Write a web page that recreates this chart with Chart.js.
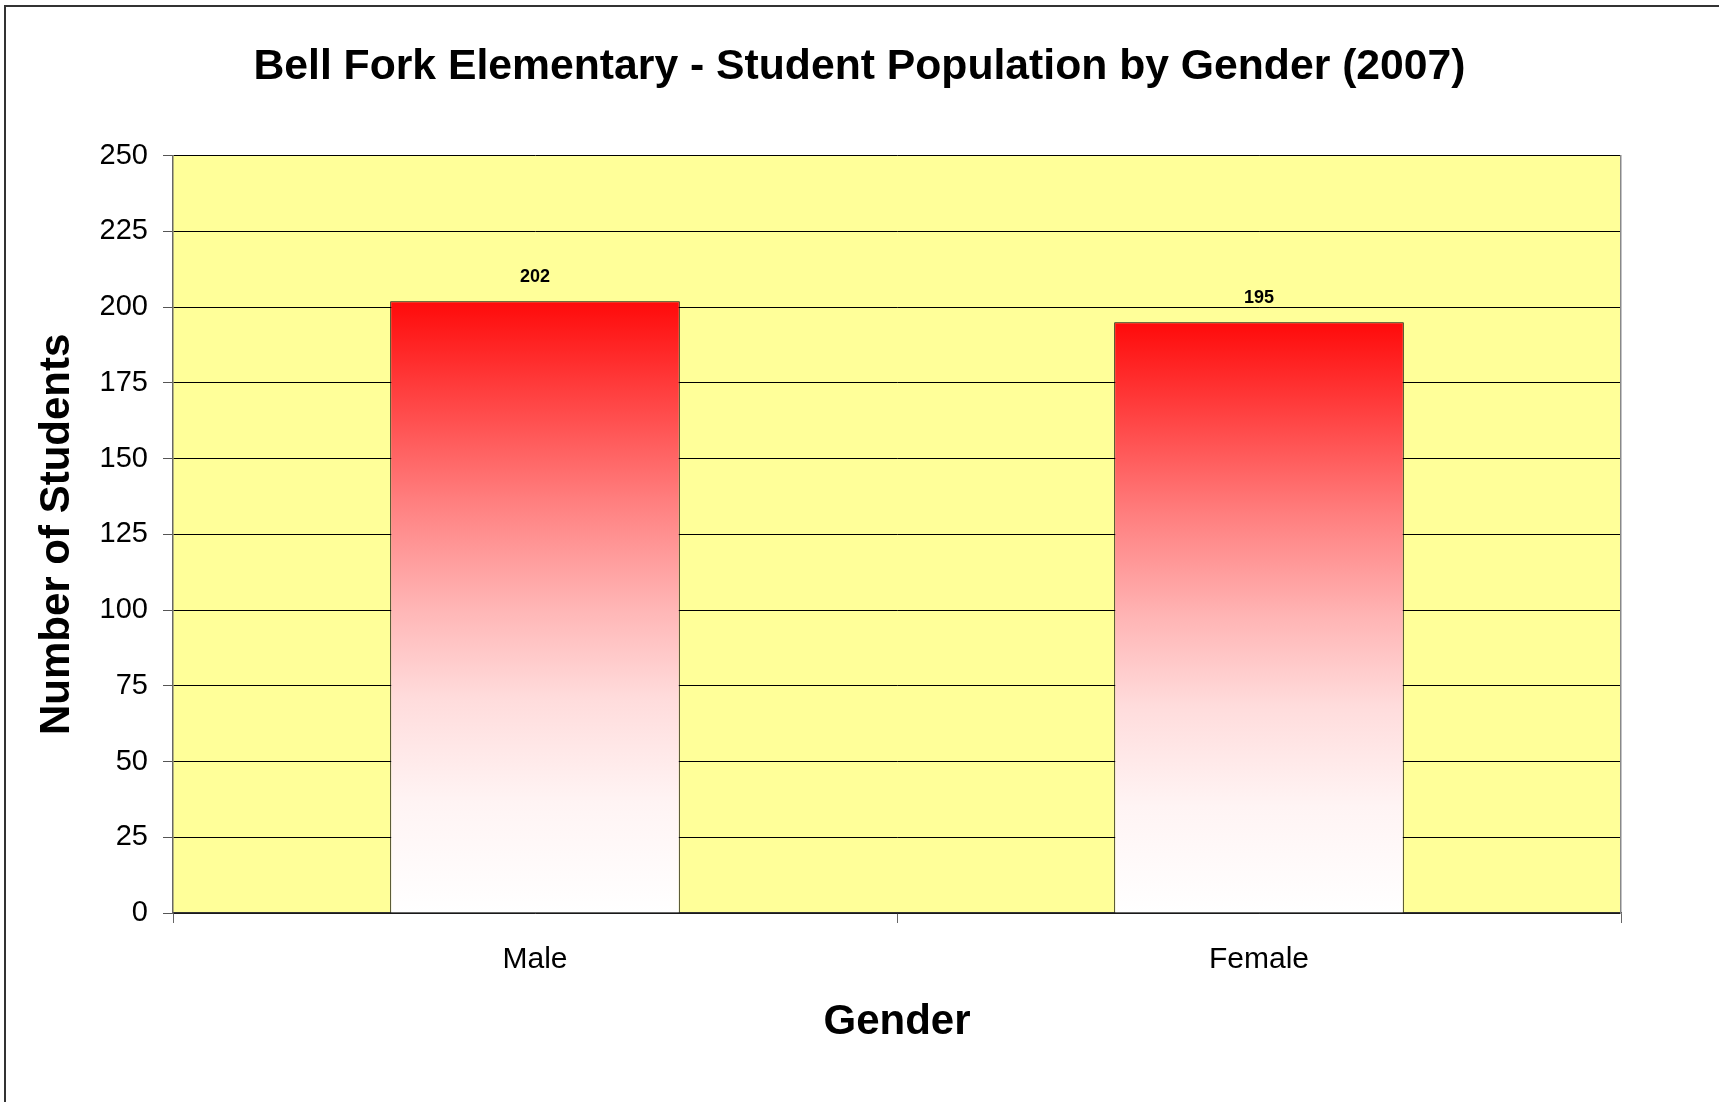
<!DOCTYPE html>
<html>
<head>
<meta charset="utf-8">
<title>Bell Fork Elementary - Student Population by Gender (2007)</title>
<script src="https://cdn.jsdelivr.net/npm/chart.js@4.4.1/dist/chart.umd.min.js"></script>
<style>
  html, body { margin: 0; padding: 0; background: #ffffff; }
  canvas { display: block; }
</style>
</head>
<body>
<canvas id="genderChart" width="1719" height="1102"></canvas>
<script>
// Données du graphique
const categories = ['Male', 'Female'];
const students = [202, 195];
const yTicks = [0, 25, 50, 75, 100, 125, 150, 175, 200, 225, 250];

const FONT = "'Liberation Sans', Arial, Helvetica, sans-serif";

// Fond jaune de la zone de tracé + cadre extérieur
const plotBackground = {
  id: 'plotBackground',
  beforeDraw(chart) {
    const { ctx, chartArea: a } = chart;
    ctx.save();
    ctx.fillStyle = '#ffff99';
    ctx.fillRect(a.left, a.top, a.right - a.left, a.bottom - a.top);
    // cadre du graphique (haut et gauche)
    ctx.strokeStyle = '#333333';
    ctx.lineWidth = 2;
    ctx.beginPath();
    ctx.moveTo(5, chart.height);
    ctx.lineTo(5, 6);
    ctx.lineTo(chart.width, 6);
    ctx.stroke();
    ctx.restore();
  }
};

// Étiquettes de valeur au-dessus des barres
const valueLabels = {
  id: 'valueLabels',
  afterDatasetsDraw(chart) {
    const { ctx } = chart;
    const meta = chart.getDatasetMeta(0);
    ctx.save();
    ctx.font = 'bold 18px ' + FONT;
    ctx.fillStyle = '#000000';
    ctx.textAlign = 'center';
    ctx.textBaseline = 'middle';
    meta.data.forEach((bar, i) => {
      ctx.fillText(String(students[i]), bar.x, bar.y - 24);
    });
    ctx.restore();
  }
};

// Dégradé rouge -> blanc propre à chaque barre
function barGradient(context) {
  const chart = context.chart;
  const { ctx, chartArea, scales } = chart;
  if (!chartArea || !scales.y) return '#ff6060';
  const top = scales.y.getPixelForValue(context.raw);
  const bottom = scales.y.getPixelForValue(0);
  const g = ctx.createLinearGradient(0, top, 0, bottom);
  g.addColorStop(0, '#ff0a0a');
  g.addColorStop(0.33, '#ff8080');
  g.addColorStop(0.5, '#ffb5b5');
  g.addColorStop(0.65, '#ffdcdc');
  g.addColorStop(0.82, '#fff4f4');
  g.addColorStop(1, '#ffffff');
  return g;
}

const ctx = document.getElementById('genderChart').getContext('2d');
window.genderChart = new Chart(ctx, {
  type: 'bar',
  data: {
    labels: categories,
    datasets: [
      {
        label: 'Number of Students',
        data: students,
        backgroundColor: barGradient,
        borderColor: '#000000',
        borderWidth: 1,
        barPercentage: 0.4,
        categoryPercentage: 1.0,
      },
    ],
  },
  options: {
    responsive: false,
    animation: false,
    devicePixelRatio: 1,
    layout: {
      padding: 0,
    },
    plugins: {
      legend: { display: false },
      tooltip: { enabled: false },
      title: {
        display: true,
        text: 'Bell Fork Elementary - Student Population by Gender (2007)',
        color: '#000000',
        font: { family: FONT, size: 42.7, weight: 'bold', lineHeight: 1.2 },
        padding: { top: 41.5, bottom: 63 },
      },
    },
    scales: {
      x: {
        offset: true,
        afterFit(scale) { scale.height = 189; },
        grid: {
          offset: true,
          drawOnChartArea: false,
          drawTicks: true,
          tickLength: 10,
          color: '#666666',
          lineWidth: 1,
        },
        border: { display: true, color: '#333333', width: 1.5 },
        ticks: {
          color: '#000000',
          padding: 19,
          font: { family: FONT, size: 30 },
        },
        title: {
          display: true,
          text: 'Gender',
          color: '#000000',
          font: { family: FONT, size: 42, weight: 'bold', lineHeight: 1.2 },
          padding: { top: 0, bottom: 54 },
        },
      },
      y: {
        min: 0,
        max: 250,
        afterFit(scale) { scale.width = 173; },
        afterBuildTicks(scale) {
          scale.ticks = yTicks.map(v => ({ value: v }));
        },
        grid: {
          color: '#000000',
          lineWidth: 1,
          drawTicks: true,
          tickLength: 10,
          tickColor: '#555555',
        },
        border: { display: true, color: '#666666', width: 1.5 },
        ticks: {
          color: '#000000',
          padding: 15,
          font: { family: FONT, size: 29 },
        },
        title: {
          display: true,
          text: 'Number of Students',
          color: '#000000',
          font: { family: FONT, size: 42, weight: 'bold', lineHeight: 1.2 },
          padding: { top: 32, bottom: 0 },
        },
      },
      // axe vide à droite : réserve la marge et trace le bord droit
      yRight: {
        position: 'right',
        min: 0,
        max: 250,
        afterFit(scale) { scale.width = 98; },
        grid: { display: false, drawOnChartArea: false, drawTicks: false },
        border: { display: true, color: '#888888', width: 1.5 },
        ticks: { display: false },
      },
    },
  },
  plugins: [plotBackground, valueLabels],
});
</script>
</body>
</html>
